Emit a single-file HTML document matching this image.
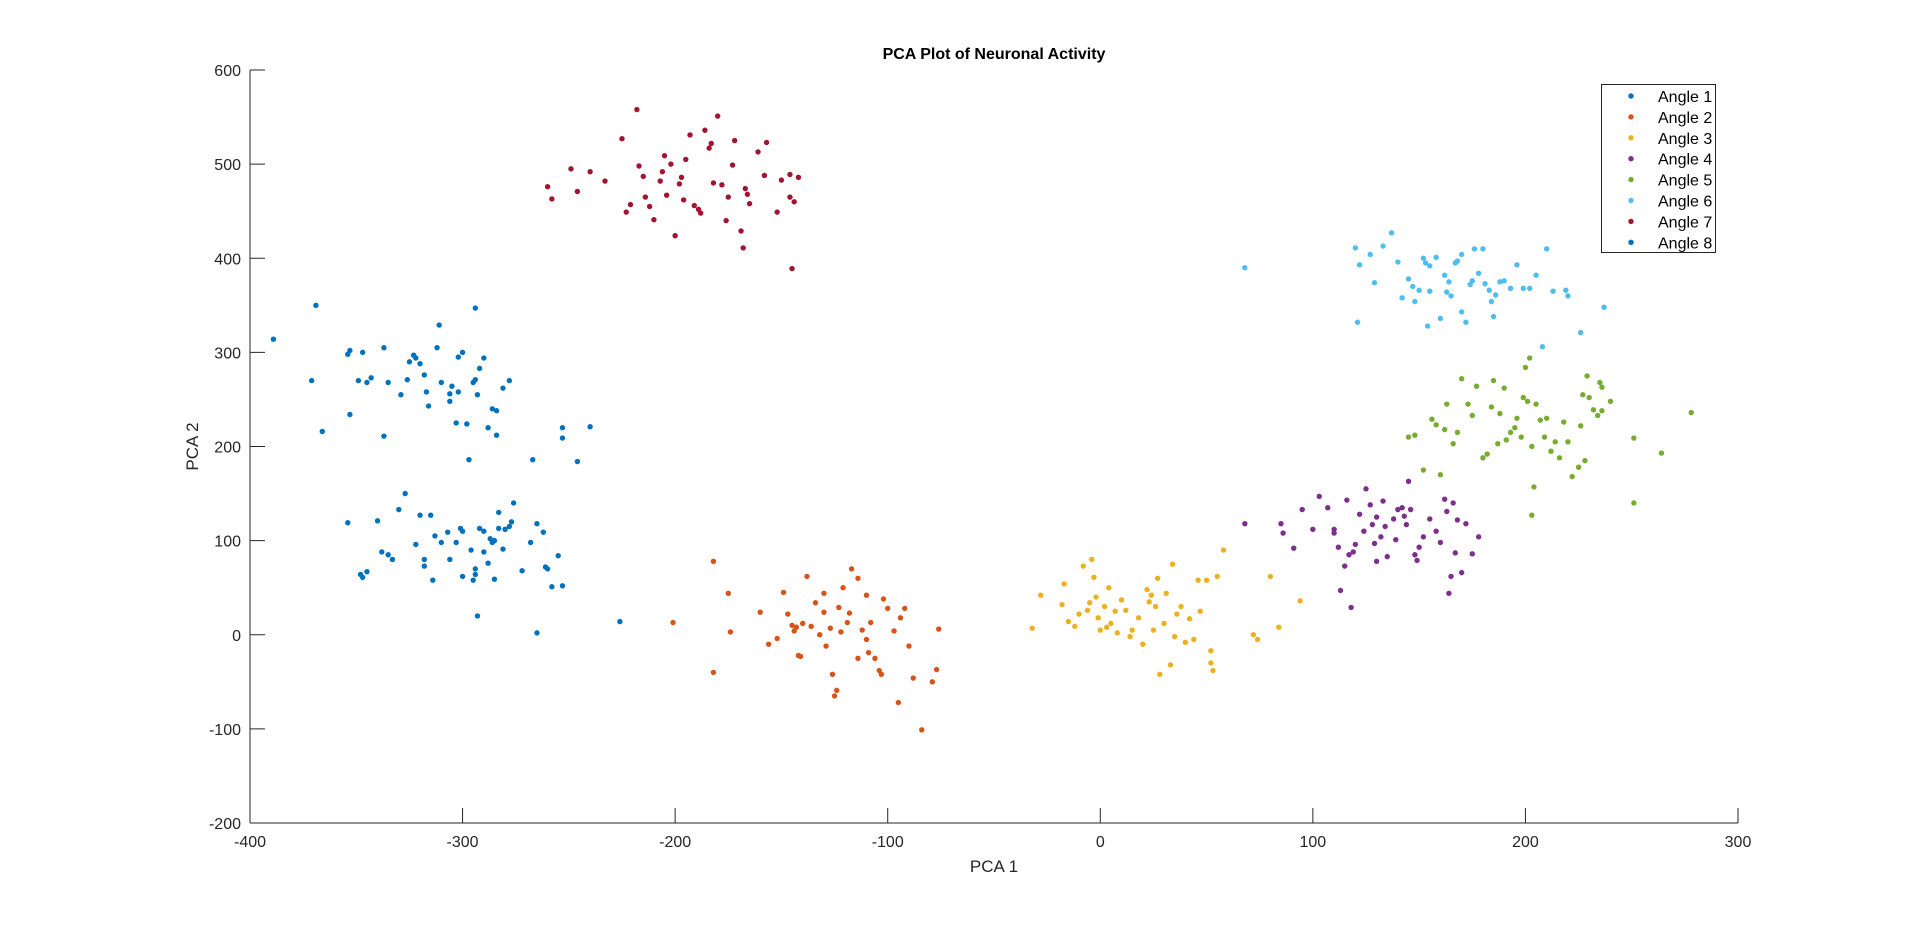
<!DOCTYPE html>
<html><head><meta charset="utf-8"><style>
html,body{margin:0;padding:0;background:#fff;}
svg{display:block;font-family:"Liberation Sans",Arial,sans-serif;}
</style></head><body>
<svg id="chart" width="1920" height="926"></svg>
<script>
const seriesNames=["Angle 1","Angle 2","Angle 3","Angle 4","Angle 5","Angle 6","Angle 7","Angle 8"];
const seriesColors=["#0072BD","#D95319","#EDB120","#7E2F8E","#77AC30","#4DBEEE","#A2142F","#0072BD"];
const xTicks=[-400,-300,-200,-100,0,100,200,300];
const yTicks=[-200,-100,0,100,200,300,400,500,600];
const angle1=[[-354,119],[-348,64],[-347,61],[-345,67],[-340,121],[-338,88],[-335,85],[-333,80],[-330,133],[-327,150],[-322,96],[-320,127],[-318,80],[-318,73],[-315,127],[-314,58],[-313,105],[-310,98],[-306,80],[-303,98],[-300,62],[-300,110],[-301,113],[-296,90],[-295,58],[-294,64],[-294,70],[-293,20],[-292,113],[-290,110],[-290,88],[-287,102],[-286,98],[-285,59],[-285,100],[-283,113],[-281,91],[-280,112],[-278,115],[-277,120],[-276,140],[-272,68],[-268,98],[-265,118],[-262,109],[-261,72],[-260,70],[-258,51],[-255,84],[-253,52],[-265,2],[-226,14],[-283,130],[-307,109],[-288,76]];
const angle2=[[-201,13],[-182,78],[-182,-40],[-175,44],[-174,3],[-160,24],[-156,-10],[-152,-4],[-149,45],[-147,22],[-145,10],[-144,4],[-143,8],[-142,-22],[-141,-23],[-140,12],[-138,62],[-136,9],[-134,34],[-132,0],[-130,24],[-129,-12],[-127,7],[-126,-42],[-125,-65],[-124,-59],[-123,29],[-122,3],[-121,50],[-119,13],[-118,23],[-117,70],[-114,60],[-114,-25],[-112,5],[-110,42],[-110,-5],[-109,-19],[-108,13],[-106,-25],[-104,-38],[-103,-42],[-102,38],[-100,28],[-97,4],[-95,-72],[-94,18],[-90,-12],[-88,-46],[-84,-101],[-79,-50],[-77,-37],[-76,6],[-92,28],[-130,44]];
const angle3=[[-32,7],[-28,42],[-18,32],[-17,54],[-15,14],[-12,9],[-10,22],[-8,73],[-6,26],[-5,34],[-4,80],[-3,61],[-2,40],[-1,18],[0,5],[2,30],[3,8],[4,50],[5,12],[7,25],[8,2],[10,37],[12,26],[14,-2],[15,5],[18,18],[20,-10],[22,48],[23,35],[24,42],[25,5],[26,30],[27,60],[28,-42],[30,12],[31,44],[33,-32],[34,75],[35,-2],[36,22],[38,30],[40,-8],[42,17],[44,-5],[46,58],[47,25],[50,58],[52,-17],[52,-30],[53,-38],[55,62],[58,90],[72,0],[74,-5],[80,62],[84,8],[94,36]];
const angle4=[[68,118],[85,118],[86,108],[91,92],[95,133],[100,112],[103,147],[107,135],[110,112],[112,93],[113,47],[115,73],[116,143],[117,85],[118,29],[119,88],[120,96],[122,128],[124,110],[125,155],[127,138],[128,117],[129,97],[130,78],[132,104],[133,142],[134,115],[135,83],[138,123],[139,101],[140,133],[142,135],[143,126],[144,117],[145,163],[146,133],[148,85],[149,79],[150,93],[152,104],[155,123],[158,110],[160,98],[162,144],[163,131],[164,44],[165,62],[166,140],[167,87],[168,122],[170,66],[172,118],[175,86],[178,104],[130,125],[110,108]];
const angle5=[[145,210],[148,212],[152,175],[156,229],[158,223],[160,170],[162,218],[163,245],[166,203],[168,215],[170,272],[175,233],[177,264],[180,188],[182,192],[184,242],[185,270],[187,203],[190,262],[191,207],[193,215],[195,220],[196,230],[198,210],[199,252],[200,284],[201,248],[202,294],[203,200],[204,157],[203,127],[205,245],[207,228],[209,210],[210,230],[212,195],[214,205],[216,188],[218,226],[220,205],[222,168],[225,178],[226,222],[227,255],[228,185],[229,275],[230,252],[232,239],[234,233],[235,268],[236,263],[236,238],[240,248],[251,209],[251,140],[264,193],[278,236],[173,245],[188,235]];
const angle6=[[68,390],[120,411],[121,332],[122,393],[127,404],[129,374],[133,413],[137,427],[140,396],[142,358],[145,378],[147,370],[148,354],[150,366],[152,400],[153,395],[154,328],[155,392],[158,401],[160,336],[162,382],[163,364],[165,360],[167,395],[168,397],[170,343],[170,404],[172,332],[174,372],[175,376],[176,410],[178,384],[180,410],[181,373],[183,366],[184,354],[185,338],[186,361],[188,375],[190,376],[193,368],[196,393],[199,368],[202,368],[205,382],[208,306],[210,410],[213,365],[219,366],[220,360],[226,321],[237,348],[155,365],[164,375]];
const angle7=[[-260,476],[-258,463],[-249,495],[-246,471],[-240,492],[-233,482],[-225,527],[-223,449],[-221,457],[-218,558],[-217,498],[-214,465],[-212,455],[-210,441],[-207,482],[-205,509],[-204,467],[-202,500],[-200,424],[-198,479],[-197,486],[-195,505],[-196,462],[-193,531],[-191,456],[-189,452],[-188,448],[-186,536],[-184,517],[-183,522],[-180,551],[-178,478],[-176,440],[-175,465],[-173,499],[-172,525],[-169,429],[-168,411],[-167,474],[-166,468],[-165,458],[-161,513],[-158,488],[-157,523],[-152,449],[-150,483],[-146,489],[-146,465],[-144,460],[-142,486],[-145,389],[-182,480],[-215,487],[-206,492]];
const angle8=[[-389,314],[-369,350],[-371,270],[-366,216],[-354,298],[-353,302],[-347,300],[-353,234],[-349,270],[-345,268],[-343,273],[-337,305],[-335,268],[-337,211],[-329,255],[-325,290],[-322,294],[-320,288],[-323,297],[-318,276],[-317,258],[-316,243],[-312,305],[-311,329],[-310,268],[-305,264],[-302,258],[-306,248],[-300,300],[-303,225],[-302,295],[-298,224],[-295,268],[-294,271],[-297,186],[-294,347],[-290,294],[-292,283],[-288,220],[-286,240],[-284,238],[-281,262],[-278,270],[-284,212],[-267,186],[-253,220],[-253,209],[-246,184],[-240,221],[-293,255],[-306,256],[-326,271]];
const allSeries=[angle1,angle2,angle3,angle4,angle5,angle6,angle7,angle8];

const NS="http://www.w3.org/2000/svg";
const svg=document.getElementById('chart');
const L=250,R=1738,T=70,B=823;
const X0=-400,X1=300,Y0=-200,Y1=600;
function sx(v){return L+(v-X0)/(X1-X0)*(R-L);}
function sy(v){return B-(v-Y0)/(Y1-Y0)*(B-T);}
function mk(tag,attrs,parent){const e=document.createElementNS(NS,tag);for(const k in attrs)e.setAttribute(k,attrs[k]);(parent||svg).appendChild(e);return e;}

const yAxis=mk('line',{x1:L,y1:T,x2:L,y2:B,stroke:'#262626','stroke-width':1});


const xAxis=mk('line',{x1:L,y1:B,x2:R,y2:B,stroke:'#262626','stroke-width':1});



xTicks.forEach(v=>{
  const x=sx(v);
  const t=mk('line',{x1:x,y1:B,x2:x,y2:B-15,stroke:'#262626'});
  
  
  const lb=mk('text',{x:x,y:B+24,'font-size':16,fill:'#262626','text-anchor':'middle'});
  lb.textContent=v;
  
  
});
yTicks.forEach(v=>{
  const y=sy(v);
  const t=mk('line',{x1:L,y1:y,x2:L+15,y2:y,stroke:'#262626'});
  
  
  const lb=mk('text',{x:L-9,y:y+6,'font-size':16,fill:'#262626','text-anchor':'end'});
  lb.textContent=v;
  
  
});

allSeries.forEach((pts,i)=>{
  const g=mk('g',{fill:seriesColors[i]});
  
  
  pts.forEach(p=>{
    const c=mk('circle',{cx:sx(p[0]),cy:sy(p[1]),r:2.7},g);
    
    
  });
});

const title=mk('text',{x:(L+R)/2,y:59,'font-size':16,'font-weight':'bold',fill:'#000','text-anchor':'middle'});
title.textContent='PCA Plot of Neuronal Activity';


const xl=mk('text',{x:(L+R)/2,y:872,'font-size':17,fill:'#262626','text-anchor':'middle'});
xl.textContent='PCA 1';


const yl=mk('text',{x:198,y:(T+B)/2,'font-size':17,fill:'#262626','text-anchor':'middle',transform:'rotate(-90 198 '+((T+B)/2)+')'});
yl.textContent='PCA 2';



const lg=mk('g',{});


mk('rect',{x:1601.5,y:84.5,width:114,height:168,fill:'#fff',stroke:'#262626','stroke-width':1},lg);
seriesNames.forEach((n,i)=>{
  const y=96+i*20.9;
  const e=mk('g',{},lg);
  
  
  mk('circle',{cx:1631,cy:y,r:2.7,fill:seriesColors[i]},e);
  const t=mk('text',{x:1658,y:y+6,'font-size':16,fill:'#000'},e);
  t.textContent=n;
});
</script>
</body></html>
